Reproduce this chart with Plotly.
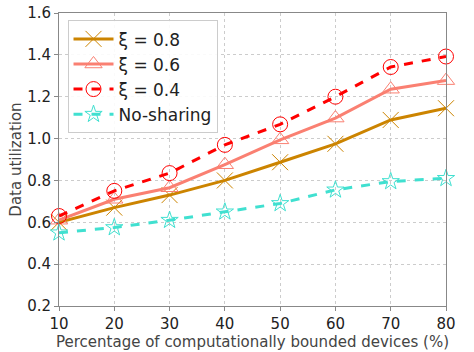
import plotly.graph_objects as go

x_vals = [10, 20, 30, 40, 50, 60, 70, 80]
xi08 = [0.60, 0.67, 0.73, 0.80, 0.887, 0.975, 1.089, 1.145]
xi06 = [0.61, 0.71, 0.765, 0.875, 0.994, 1.098, 1.236, 1.277]
xi04 = [0.63, 0.75, 0.835, 0.97, 1.068, 1.20, 1.342, 1.392]
nosh = [0.55, 0.575, 0.61, 0.65, 0.69, 0.755, 0.795, 0.81]
names = ["ξ = 0.8", "ξ = 0.6", "ξ = 0.4", "No-sharing"]

fig = go.Figure()
styles = [
    (xi08, "#CC8400", "solid", "x-thin-open", 16),
    (xi06, "#FA8072", "solid", "triangle-up-open", 15),
    (xi04, "#FF0000", "dash", "circle-open", 15),
    (nosh, "#40E0D0", "dash", "star-open", 13),
]
for (ys, col, dash, sym, sz), nm in zip(styles, names):
    fig.add_trace(go.Scatter(
        x=x_vals, y=ys, name=nm, mode="lines+markers",
        line=dict(color=col, width=3, dash=dash),
        marker=dict(symbol=sym, size=sz, color=col, line=dict(color=col, width=1)),
        cliponaxis=False,
    ))

font = "DejaVu Sans, sans-serif"
fig.update_layout(
    width=474, height=352,
    margin=dict(l=59, r=28, t=13, b=46),
    paper_bgcolor="white", plot_bgcolor="white",
    font=dict(family=font, size=14, color="#222"),
    showlegend=True,
    legend=dict(x=0.022, y=0.975, xanchor="left", yanchor="top",
                bgcolor="rgba(255,255,255,0.9)", bordercolor="#cccccc", borderwidth=1,
                font=dict(size=17, color="#222"), itemwidth=40, tracegroupgap=0),
    xaxis=dict(range=[10, 80], tickvals=x_vals, showgrid=True, gridcolor="#cccccc", griddash="dot",
               gridwidth=1, showline=True, linecolor="#888888", linewidth=1, mirror=True,
               ticks="outside", ticklen=4, tickcolor="#888888", zeroline=False, automargin=False,
               title=dict(text="Percentage of computationally bounded devices (%)",
                          font=dict(size=15, color="#444"), standoff=4),
               tickfont=dict(size=15, color="#222")),
    yaxis=dict(range=[0.2, 1.6], tickvals=[0.2, 0.4, 0.6, 0.8, 1.0, 1.2, 1.4, 1.6], tickformat=".1f",
               showgrid=True, gridcolor="#cccccc", griddash="dot", gridwidth=1,
               showline=True, linecolor="#888888", linewidth=1, mirror=True,
               ticks="outside", ticklen=4, tickcolor="#888888", zeroline=False, automargin=False,
               title=dict(text="Data utilization", font=dict(size=15, color="#444"), standoff=1),
               tickfont=dict(size=15, color="#222")),
)
fig.write_html("out.html")
